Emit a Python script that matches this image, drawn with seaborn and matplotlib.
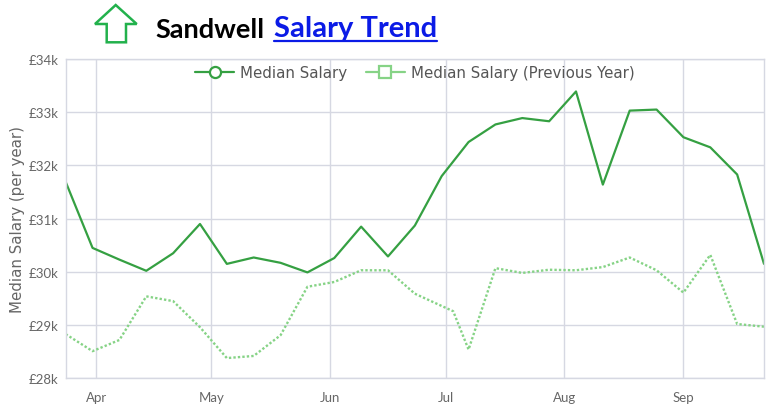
import matplotlib
matplotlib.use("Agg")
import matplotlib.pyplot as plt
import matplotlib.dates as mdates
from matplotlib.lines import Line2D
from matplotlib.patches import Polygon
from matplotlib.ticker import FuncFormatter, MultipleLocator
import pandas as pd
import seaborn as sns

# Weekly observations (current year)
week_dates = [
    "2023-03-24", "2023-03-31", "2023-04-07", "2023-04-14", "2023-04-21",
    "2023-04-28", "2023-05-05", "2023-05-12", "2023-05-19", "2023-05-26",
    "2023-06-02", "2023-06-09", "2023-06-16", "2023-06-23", "2023-06-30",
    "2023-07-07", "2023-07-14", "2023-07-21", "2023-07-28", "2023-08-04",
    "2023-08-11", "2023-08-18", "2023-08-25", "2023-09-01", "2023-09-08",
    "2023-09-15", "2023-09-22",
]
median_salary = [
    31690, 30450, 30230, 30020, 30350, 30900, 30150, 30270, 30170, 29990,
    30260, 30850, 30290, 30870, 31800, 32440, 32770, 32890, 32830, 33390,
    31640, 33030, 33050, 32530, 32340, 31830, 30150,
]

# Previous year, plotted on the same calendar
prev_dates = [
    "2023-03-24", "2023-03-31", "2023-04-07", "2023-04-14", "2023-04-21",
    "2023-04-28", "2023-05-05", "2023-05-12", "2023-05-19", "2023-05-26",
    "2023-06-02", "2023-06-09", "2023-06-16", "2023-06-23", "2023-07-03",
    "2023-07-07", "2023-07-14", "2023-07-21", "2023-07-28", "2023-08-04",
    "2023-08-11", "2023-08-18", "2023-08-25", "2023-09-01", "2023-09-08",
    "2023-09-15", "2023-09-22",
]
prev_salary = [
    28830, 28510, 28720, 29540, 29450, 28960, 28380, 28420, 28810, 29720,
    29810, 30030, 30030, 29590, 29260, 28540, 30070, 29980, 30040, 30030,
    30090, 30270, 30030, 29610, 30320, 29020, 28970,
]

title_place = "Sandwell"
title_link = "Salary Trend"
y_label = "Median Salary (per year)"
legend_labels = ["Median Salary", "Median Salary (Previous Year)"]

GREEN = "#35a042"
LIGHT_GREEN = "#86d386"
GRID = "#d6d8e2"
TEXT_GREY = "#666666"

cur = pd.DataFrame({"date": pd.to_datetime(week_dates), "salary": median_salary})
prev = pd.DataFrame({"date": pd.to_datetime(prev_dates), "salary": prev_salary})

sns.set_theme(style="white")
plt.rcParams["font.family"] = ["Lato", "DejaVu Sans"]

W, H = 772, 406
fig = plt.figure(figsize=(W / 100, H / 100), dpi=100)
ax = fig.add_axes([65.7 / W, 1 - 379.3 / H, (764 - 65.7) / W, (379.3 - 60) / H])

sns.lineplot(data=prev, x="date", y="salary", ax=ax, color=LIGHT_GREEN,
             linewidth=1.7, linestyle=(0, (1, 0.9)))
sns.lineplot(data=cur, x="date", y="salary", ax=ax, color=GREEN, linewidth=1.6)

ax.set_xlim(cur["date"].iloc[0], cur["date"].iloc[-1])
ax.set_ylim(28000, 34000)
ax.yaxis.set_major_locator(MultipleLocator(1000))
ax.yaxis.set_major_formatter(FuncFormatter(lambda v, p: f"£{v / 1000:.0f}k"))
ax.xaxis.set_major_locator(mdates.MonthLocator())
ax.xaxis.set_major_formatter(mdates.DateFormatter("%b"))

ax.grid(True, color=GRID, linewidth=1)
ax.set_axisbelow(True)
for s in ax.spines.values():
    s.set_color(GRID)
    s.set_linewidth(1)
ax.tick_params(length=0, labelsize=9.5, colors=TEXT_GREY, pad=5)
ax.tick_params(axis="x", pad=9)
ax.set_xlabel("")
ax.set_ylabel(y_label, fontsize=10.8, color=TEXT_GREY, family="DejaVu Sans")
ax.yaxis.set_label_coords(-0.058, 0.5)

handles = [
    Line2D([], [], color=GREEN, lw=1.6, marker="o", markersize=8,
           markerfacecolor="white", markeredgewidth=1.6),
    Line2D([], [], color=LIGHT_GREEN, lw=1.6, marker="s", markersize=8,
           markerfacecolor="white", markeredgewidth=1.6),
]
ax.legend(handles, legend_labels, loc="center", bbox_to_anchor=(0.5, 0.958),
          ncol=2, frameon=False, handlelength=2.6, handletextpad=0.4,
          columnspacing=1.2, prop={"family": "DejaVu Sans", "size": 10.8},
          labelcolor="#555555")

# Title: green outlined arrow + text with an underlined link part
arrow_px = [(115.7, 6), (136.7, 25), (126, 25), (126, 43.3),
            (106.7, 43.3), (106.7, 25), (95, 25)]
fig.add_artist(Polygon([(x / W, 1 - y / H) for x, y in arrow_px], closed=True,
                       fill=False, edgecolor="#22b14c", linewidth=1.8,
                       transform=fig.transFigure))
fig.text(155 / W, 1 - 37.5 / H, title_place, fontsize=19.5, fontweight="bold",
         color="black", va="baseline", ha="left")
link = fig.text(274 / W, 1 - 37.5 / H, title_link, fontsize=21, fontweight="bold",
                color="#0b1be6", va="baseline", ha="left")
fig.canvas.draw()
bb = link.get_window_extent()
fig.add_artist(Line2D([bb.x0 / W, bb.x1 / W], [1 - 41.5 / H, 1 - 41.5 / H],
                      color="#0b1be6", lw=1.6, transform=fig.transFigure))

fig.savefig("out.png", dpi=100)
